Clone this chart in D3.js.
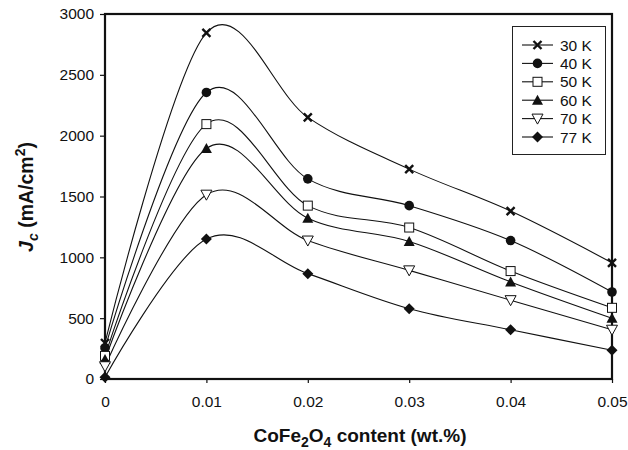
<!DOCTYPE html>
<html>
<head>
<meta charset="utf-8">
<script src="https://cdn.jsdelivr.net/npm/d3@7"></script>
<style>
  body { margin: 0; background: #fff; }
  text { font-family: "Liberation Sans", Arial, sans-serif; fill: #111; }
</style>
</head>
<body>
<svg id="chart" width="628" height="450"></svg>
<script>
// donnees
const contents = [0, 0.01, 0.02, 0.03, 0.04, 0.05]
const temps = ['30 K', '40 K', '50 K', '60 K', '70 K', '77 K']
const jc30 = [296, 2845, 2150, 1725, 1380, 955]
const jc40 = [255, 2355, 1645, 1425, 1138, 715]
const jc50 = [190, 2095, 1425, 1245, 887, 585]
const jc60 = [160, 1895, 1322, 1130, 798, 500]
const jc70 = [105, 1515, 1138, 893, 648, 405]
const jc77 = [15, 1150, 866, 578, 405, 236]
const xTicks = [0, 0.01, 0.02, 0.03, 0.04, 0.05]
const yTicks = [0, 500, 1000, 1500, 2000, 2500, 3000]

const series = [jc30, jc40, jc50, jc60, jc70, jc77]
const markers = ['cross', 'circle', 'square', 'triangle', 'tridown', 'diamond']

const svg = d3.select('#chart')
const ink = '#111'

const x = d3.scaleLinear().domain([0, 0.05]).range([105, 612])
const y = d3.scaleLinear().domain([0, 3000]).range([379, 14])

// axes
const axisY = d3.axisLeft(y).tickValues(yTicks).tickSize(5).tickPadding(6)
  .tickFormat(d3.format('d'))
const axisX = d3.axisBottom(x).tickValues(xTicks).tickSize(5).tickPadding(12)
  .tickFormat(d => d === 0 ? '0' : d3.format('.2f')(d))

const gy = svg.append('g').attr('transform', 'translate(105,0)').call(axisY)
const gx = svg.append('g').attr('transform', 'translate(0,379)').call(axisX)
;[gx, gy].forEach(g => {
  g.select('.domain').remove()
  g.selectAll('line').attr('stroke', ink).attr('stroke-width', 1.2)
  g.selectAll('text').style('font-size', '15.5px').attr('fill', ink)
    .style('font-family', '"Liberation Sans", Arial, sans-serif')
})
gx.selectAll('line').attr('y2', 4)

// cadre
svg.append('rect')
  .attr('x', x(0)).attr('y', y(3000))
  .attr('width', x(0.05) - x(0)).attr('height', y(0) - y(3000))
  .attr('fill', 'none').attr('stroke', ink).attr('stroke-width', 2.2)

// courbes lissees
const line = d3.line()
  .x((d, i) => x(contents[i]))
  .y(d => y(d))
  .curve(d3.curveCardinal.tension(0))

svg.append('g').selectAll('path')
  .data(series)
  .join('path')
  .attr('d', line)
  .attr('fill', 'none')
  .attr('stroke', ink)
  .attr('stroke-width', 1.1)

function drawMarker(g, type) {
  if (type === 'cross') {
    g.append('path').attr('d', 'M-4,-4L4,4M-4,4L4,-4')
      .attr('stroke', ink).attr('stroke-width', 2.4).attr('fill', 'none')
  } else if (type === 'circle') {
    g.append('circle').attr('r', 4.8).attr('fill', ink)
  } else if (type === 'square') {
    g.append('rect').attr('x', -4.5).attr('y', -4.5).attr('width', 9).attr('height', 9)
      .attr('fill', '#fff').attr('stroke', ink).attr('stroke-width', 1)
  } else if (type === 'triangle') {
    g.append('path').attr('d', 'M0,-5.5L5.5,4.5L-5.5,4.5Z').attr('fill', ink)
  } else if (type === 'tridown') {
    g.append('path').attr('d', 'M-5.5,-4.5L5.5,-4.5L0,5.5Z')
      .attr('fill', '#fff').attr('stroke', ink).attr('stroke-width', 1)
  } else {
    g.append('path').attr('d', 'M0,-5.5L5.5,0L0,5.5L-5.5,0Z').attr('fill', ink)
  }
}

series.forEach((s, k) => {
  s.forEach((v, i) => {
    const g = svg.append('g').attr('transform', `translate(${x(contents[i])},${y(v)})`)
    drawMarker(g, markers[k])
  })
})

// legende
const leg = svg.append('g')
leg.append('rect').attr('x', 512.5).attr('y', 26.5).attr('width', 93).attr('height', 128)
  .attr('fill', '#fff').attr('stroke', '#222').attr('stroke-width', 1)
temps.forEach((t, k) => {
  const yy = 45 + k * 18.4
  leg.append('line').attr('x1', 522).attr('x2', 553).attr('y1', yy).attr('y2', yy)
    .attr('stroke', ink).attr('stroke-width', 1.1)
  drawMarker(leg.append('g').attr('transform', `translate(537.5,${yy})`), markers[k])
  leg.append('text').attr('x', 560).attr('y', yy + 5.5).style('font-size', '15.5px').text(t)
})

// titres des axes
svg.append('text')
  .attr('x', 360).attr('y', 442)
  .attr('text-anchor', 'middle')
  .style('font-size', '19px').style('font-weight', 'bold')
  .html('CoFe<tspan dy="5" font-size="14">2</tspan><tspan dy="-5">O</tspan><tspan dy="5" font-size="14">4</tspan><tspan dy="-5"> content (wt.%)</tspan>')

svg.append('text')
  .attr('transform', 'translate(33,197) rotate(-90)')
  .attr('text-anchor', 'middle')
  .style('font-size', '19.5px').style('font-weight', 'bold')
  .html('<tspan font-style="italic">J</tspan><tspan dy="5" font-size="14" font-style="italic">c</tspan><tspan dy="-5"> (mA/cm</tspan><tspan dy="-8" font-size="14">2</tspan><tspan dy="8">)</tspan>')
</script>
</body>
</html>
